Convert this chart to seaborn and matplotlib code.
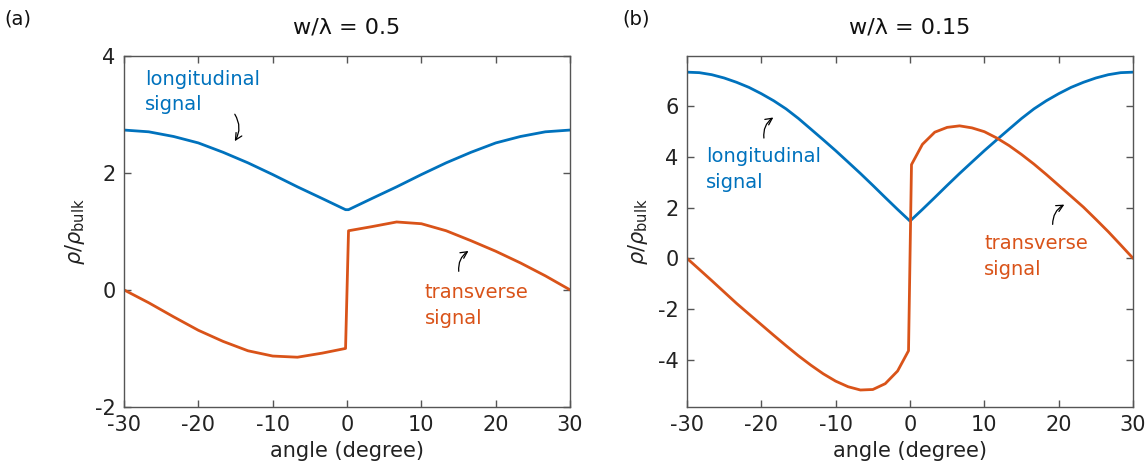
import numpy as np
import pandas as pd
import seaborn as sns
import matplotlib.pyplot as plt

# w/lambda = 0.5  (angle in degrees)
angle_a = [-30, -26.67, -23.33, -20, -16.67, -13.33, -10, -6.67, -3.33, -0.2,
           0.2, 3.33, 6.67, 10, 13.33, 16.67, 20, 23.33, 26.67, 30]
long_a = [2.73, 2.70, 2.62, 2.51, 2.35, 2.17, 1.97, 1.76, 1.56, 1.37,
          1.37, 1.56, 1.76, 1.97, 2.17, 2.35, 2.51, 2.62, 2.70, 2.73]
trans_a = [0.0, -0.22, -0.46, -0.69, -0.88, -1.04, -1.13, -1.15, -1.08, -1.00,
           1.01, 1.08, 1.16, 1.13, 1.01, 0.84, 0.66, 0.46, 0.24, 0.0]

# w/lambda = 0.15
angle_b_long = [-30, -28.33, -26.67, -25, -23.33, -21.67, -20, -18.33, -16.67, -15,
                -13.33, -11.67, -10, -8.33, -6.67, -5, -3.33, -1.67, 0,
                1.67, 3.33, 5, 6.67, 8.33, 10, 11.67, 13.33, 15, 16.67,
                18.33, 20, 21.67, 23.33, 25, 26.67, 28.33, 30]
long_b = [7.35, 7.33, 7.25, 7.12, 6.95, 6.75, 6.50, 6.22, 5.90, 5.52,
          5.10, 4.68, 4.25, 3.80, 3.35, 2.88, 2.40, 1.93, 1.47,
          1.93, 2.40, 2.88, 3.35, 3.80, 4.25, 4.68, 5.10, 5.52, 5.90,
          6.22, 6.50, 6.75, 6.95, 7.12, 7.25, 7.33, 7.35]
angle_b_trans = [-30, -28.33, -26.67, -25, -23.33, -21.67, -20, -18.33, -16.67, -15,
                 -13.33, -11.67, -10, -8.33, -6.67, -5, -3.33, -1.67, -0.2,
                 0.2, 1.67, 3.33, 5, 6.67, 8.33, 10, 11.67, 13.33, 15, 16.67,
                 18.33, 20, 21.67, 23.33, 25, 26.67, 28.33, 30]
trans_b = [0.0, -0.44, -0.88, -1.33, -1.78, -2.20, -2.62, -3.04, -3.45, -3.85,
           -4.22, -4.56, -4.85, -5.07, -5.20, -5.18, -4.95, -4.45, -3.65,
           3.70, 4.50, 4.98, 5.17, 5.23, 5.15, 5.00, 4.75, 4.45, 4.10, 3.72,
           3.31, 2.88, 2.45, 2.02, 1.54, 1.05, 0.53, 0.0]

titles = ['w/λ = 0.5', 'w/λ = 0.15']
panel_tags = ['(a)', '(b)']

blue = '#0072BD'
red = '#D95319'

sns.set_theme(style='ticks')
plt.rcParams['font.family'] = ['DejaVu Sans']
plt.rcParams['axes.unicode_minus'] = False
plt.rcParams['xtick.direction'] = 'in'
plt.rcParams['ytick.direction'] = 'in'
plt.rcParams['xtick.top'] = True
plt.rcParams['ytick.right'] = True
plt.rcParams['axes.edgecolor'] = '#555555'
plt.rcParams['axes.linewidth'] = 1.0
plt.rcParams['xtick.color'] = '#555555'
plt.rcParams['ytick.color'] = '#555555'
plt.rcParams['xtick.labelcolor'] = '#222222'
plt.rcParams['ytick.labelcolor'] = '#222222'

long_a_df = pd.DataFrame({'angle': angle_a, 'value': long_a})
trans_a_df = pd.DataFrame({'angle': angle_a, 'value': trans_a})
long_b_df = pd.DataFrame({'angle': angle_b_long, 'value': long_b})
trans_b_df = pd.DataFrame({'angle': angle_b_trans, 'value': trans_b})

fig, axes = plt.subplots(1, 2, figsize=(11.46, 4.74), dpi=100)
fig.subplots_adjust(left=0.1082, right=0.9887, bottom=0.1414, top=0.8825, wspace=0.262)

for ax, dl, dt in zip(axes, [long_a_df, long_b_df], [trans_a_df, trans_b_df]):
    sns.lineplot(data=dl, x='angle', y='value', ax=ax, color=blue,
                 linewidth=2, estimator=None)
    sns.lineplot(data=dt, x='angle', y='value', ax=ax, color=red,
                 linewidth=2, estimator=None)

axes[0].set_ylim(-2, 4)
axes[0].set_yticks([-2, 0, 2, 4])
axes[1].set_ylim(-5.87, 8.0)
axes[1].set_yticks([-4, -2, 0, 2, 4, 6])

for ax, t in zip(axes, titles):
    ax.set_xlim(-30, 30)
    ax.set_xticks([-30, -20, -10, 0, 10, 20, 30])
    ax.tick_params(labelsize=15, length=5, width=1, pad=6)
    ax.set_xlabel('angle (degree)', fontsize=15, color='#222222', labelpad=4)
    ax.set_ylabel(r'$\rho/\rho_{\rm bulk}$', fontsize=15, color='#222222', labelpad=6)
    ax.set_title(t, fontsize=16, color='#111111', pad=16)
    for s in ax.spines.values():
        s.set_visible(True)

# annotations
arrow = dict(arrowstyle='->', color='black', lw=0.9, connectionstyle='arc3,rad=-0.35')
ax = axes[0]
ax.text(-27.2, 3.76, 'longitudinal\nsignal', color=blue, fontsize=14, va='top',
        ha='left', linespacing=1.45)
ax.annotate('', xy=(-15.3, 2.50), xytext=(-15.3, 3.04), arrowprops=arrow)
ax.text(10.45, 0.11, 'transverse\nsignal', color=red, fontsize=14, va='top',
        ha='left', linespacing=1.45)
ax.annotate('', xy=(16.65, 0.69), xytext=(15.07, 0.27), arrowprops=arrow)

ax = axes[1]
ax.text(-27.4, 4.39, 'longitudinal\nsignal', color=blue, fontsize=14, va='top',
        ha='left', linespacing=1.45)
ax.annotate('', xy=(-18.07, 5.62), xytext=(-19.6, 4.64), arrowprops=arrow)
ax.text(9.96, 0.96, 'transverse\nsignal', color=red, fontsize=14, va='top',
        ha='left', linespacing=1.45)
ax.annotate('', xy=(21.09, 2.17), xytext=(19.2, 1.23), arrowprops=arrow)

fig.text(0.004, 0.96, panel_tags[0], fontsize=14, color='#111111', va='center')
fig.text(0.543, 0.96, panel_tags[1], fontsize=14, color='#111111', va='center')

fig.savefig('out.png', dpi=100)
